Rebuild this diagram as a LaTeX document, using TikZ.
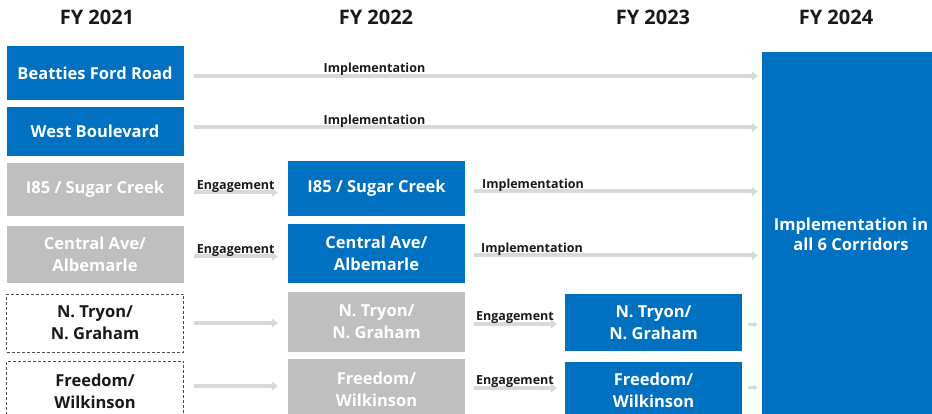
\documentclass[tikz,border=0pt]{standalone}
\usepackage{fontspec}
\setmainfont{Open Sans}
\usetikzlibrary{arrows.meta}
\definecolor{cityblue}{HTML}{0070C0}
\definecolor{boxgrey}{HTML}{BFBFBF}
\definecolor{arrowgrey}{HTML}{D9D9D9}

\begin{document}
\begin{tikzpicture}[x=1pt,y=-1pt,
    year node/.style={font=\bfseries\fontsize{20}{22}\selectfont,text=black!90},
    blue box/.style={fill=cityblue,text=white,align=center,inner sep=0pt,minimum width=177pt,font=\bfseries\fontsize{16.5}{22}\selectfont},
    grey box/.style={blue box,fill=boxgrey,text=white},
    open box/.style={blue box,fill=none,draw=black!70,dash pattern=on 3pt off 2pt,line width=0.8pt,text=black!90},
    flow arrow/.style={draw=arrowgrey,line width=4pt,-{Triangle[length=6pt,width=9pt]}},
    short arrow/.style={flow arrow,line width=2.5pt,-{Triangle[length=4pt,width=6pt]}},
    phase label/.style={font=\bfseries\fontsize{12.5}{14}\selectfont,text=black!90,inner sep=1pt,yshift=-3pt}]
    \clip (0,0) rectangle (932,414);

    % years
    \node[year node] (h21) at (97,17) {FY 2021};
    \node[year node] (h22) at (376,17) {FY 2022};
    \node[year node] (h23) at (653,17) {FY 2023};
    \node[year node] (h24) at (836,17) {FY 2024};

    % FY 2021
    \node[blue box,minimum height=54pt] (bfr) at (95,73) {Beatties Ford Road};
    \node[blue box,minimum height=49pt] (wb) at (95,131.5) {West Boulevard};
    \node[grey box,minimum height=53pt] (sc1) at (95,189.5) {I85 / Sugar Creek};
    \node[grey box,minimum height=57pt] (ca1) at (95,254.5) {Central Ave/\\Albemarle};
    \node[open box,minimum height=58pt] (nt1) at (95,323) {N. Tryon/\\N. Graham};
    \node[open box,minimum height=60pt] (fw1) at (95,391) {Freedom/\\Wilkinson};

    % FY 2022
    \node[blue box,minimum height=55pt] (sc2) at (376.5,188.5) {I85 / Sugar Creek};
    \node[blue box,minimum height=59pt] (ca2) at (376.5,253.5) {Central Ave/\\Albemarle};
    \node[grey box,minimum height=60pt] (nt2) at (376.5,322) {N. Tryon/\\N. Graham};
    \node[grey box,minimum height=60pt] (fw2) at (376.5,389) {Freedom/\\Wilkinson};

    % FY 2023
    \node[blue box,minimum height=57pt] (nt3) at (653.5,322.5) {N. Tryon/\\N. Graham};
    \node[blue box,minimum height=57pt] (fw3) at (653.5,390.5) {Freedom/\\Wilkinson};

    % FY 2024
    \node[blue box,minimum width=178pt,minimum height=365pt,font=\bfseries\fontsize{16.5}{20}\selectfont] (all) at (851,234.5) {Implementation in\\all 6 Corridors};

    \draw[flow arrow,shorten <=10pt,shorten >=4pt] ([yshift=-3pt]bfr.east) -- node[phase label,above,pos=0.33] {Implementation} ([yshift=-3pt]bfr.east -| all.west);
    \draw[flow arrow,shorten <=10pt,shorten >=4pt] ([yshift=4pt]wb.east) -- node[phase label,above,pos=0.33] {Implementation} ([yshift=4pt]wb.east -| all.west);

    \draw[flow arrow,shorten <=10pt,shorten >=10pt] ([yshift=-3pt]sc1.east) -- node[phase label,above] {Engagement} ([yshift=-3pt]sc1.east -| sc2.west);
    \draw[flow arrow,shorten <=9pt,shorten >=4pt] ([yshift=-3pt]sc2.east) -- node[phase label,above right,pos=0,xshift=14pt] {Implementation} ([yshift=-3pt]sc2.east -| all.west);

    \draw[flow arrow,shorten <=10pt,shorten >=10pt] ([yshift=-2pt]ca1.east) -- node[phase label,above] {Engagement} ([yshift=-2pt]ca1.east -| ca2.west);
    \draw[flow arrow,shorten <=9pt,shorten >=4pt] ([yshift=-2pt]ca2.east) -- node[phase label,above right,pos=0,xshift=13pt] {Implementation} ([yshift=-2pt]ca2.east -| all.west);

    \draw[flow arrow,shorten <=10pt,shorten >=10pt] (nt1.east) -- (nt1.east -| nt2.west);
    \draw[flow arrow,shorten <=9pt,shorten >=8pt] ([yshift=-2pt]nt2.east) -- node[phase label,above] {Engagement} ([yshift=-2pt]nt2.east -| nt3.west);
    \draw[short arrow,shorten <=6pt,shorten >=4pt] ([yshift=-2pt]nt3.east) -- ([yshift=-2pt]nt3.east -| all.west);

    \draw[flow arrow,shorten <=10pt,shorten >=10pt] ([yshift=5pt]fw1.east) -- ([yshift=5pt]fw1.east -| fw2.west);
    \draw[flow arrow,shorten <=9pt,shorten >=8pt] ([yshift=1pt]fw2.east) -- node[phase label,above] {Engagement} ([yshift=1pt]fw2.east -| fw3.west);
    \draw[short arrow,shorten <=6pt,shorten >=4pt] ([yshift=3pt]fw3.east) -- ([yshift=3pt]fw3.east -| all.west);
\end{tikzpicture}
\end{document}
